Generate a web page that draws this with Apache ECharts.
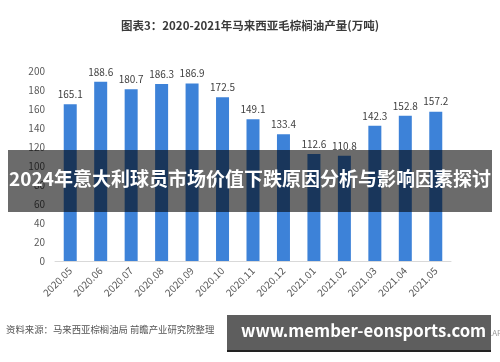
<!DOCTYPE html>
<html><head><meta charset="utf-8">
<script src="https://cdn.jsdelivr.net/npm/echarts@6/dist/echarts.min.js"></script>
<style>html,body{margin:0;padding:0;background:#fff;}#c{width:500px;height:362px;}</style>
</head><body><div id="c"></div>
<script>
const categories = ['2020.05','2020.06','2020.07','2020.08','2020.09','2020.10','2020.11','2020.12','2021.01','2021.02','2021.03','2021.04','2021.05'];
const production = [165.1,188.6,180.7,186.3,186.9,172.5,149.1,133.4,112.6,110.8,142.3,152.8,157.2];
const titleText = '图表3：2020-2021年马来西亚毛棕榈油产量(万吨)';
const bannerText = '2024年意大利球员市场价值下跌原因分析与影响因素探讨';
const sourceText = '资料来源：马来西亚棕榈油局 前瞻产业研究院整理';
const siteText = 'www.member-eonsports.com';
const FONT = '"Noto Sans CJK SC", "Noto Sans", sans-serif';

const chart = echarts.init(document.getElementById('c'), null, {renderer:'canvas'});
chart.setOption({
  animation:false,
  backgroundColor:'#fff',
  title:{text:titleText,left:'center',top:15,textStyle:{fontFamily:FONT,fontSize:11.5,fontWeight:'bold',color:'#3a3a3a'}},
  grid:{left:55,right:49,top:71,bottom:101,containLabel:false},
  xAxis:{type:'category',data:categories,
    axisLine:{lineStyle:{color:'#d9d9d9'}},axisTick:{show:false},
    axisLabel:{rotate:45,fontFamily:FONT,fontSize:10,color:'#595959',margin:8}},
  yAxis:{type:'value',min:0,max:200,interval:20,
    axisLine:{show:false},axisTick:{show:false},splitLine:{show:false},
    axisLabel:{fontFamily:FONT,fontSize:10,color:'#595959',margin:10}},
  series:[{type:'bar',data:production,barWidth:13,
    itemStyle:{color:'#3d82d8'},
    label:{show:true,position:'top',distance:5,fontFamily:FONT,fontSize:10,color:'#404040'}}],
  graphic:[
    {type:'rect',left:8,top:150,shape:{width:484,height:62},style:{fill:'rgba(0,0,0,0.58)'},z:100},
    {type:'text',left:'center',top:169,style:{text:bannerText,fill:'#fff',font:'bold 19px '+FONT},z:101},
    {type:'text',left:6,top:325,style:{text:sourceText,fill:'#555',font:'9.4px '+FONT},z:101},
    {type:'rect',left:227,top:315,shape:{width:264,height:37},style:{fill:'#5e5e5e'},z:100},
    {type:'rect',left:227,top:350,shape:{width:264,height:2},style:{fill:'#222'},z:101},
    {type:'text',left:241,top:322,style:{text:siteText,fill:'#fff',font:'bold 16.7px '+FONT},z:101},
    {type:'text',left:490,top:329,style:{text:'.APP',fill:'#999',font:'8px '+FONT},z:99}
  ]
});
</script></body></html>
